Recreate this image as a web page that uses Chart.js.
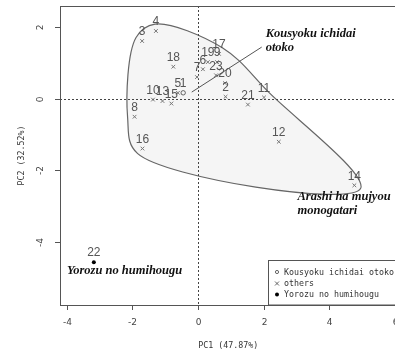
<!DOCTYPE html>
<html>
<head>
<meta charset="utf-8">
<script src="https://cdn.jsdelivr.net/npm/chart.js@4/dist/chart.umd.min.js"></script>
<style>
  html, body { margin: 0; padding: 0; background: #fff; overflow: hidden; }
  canvas { display: block; }
</style>
</head>
<body>
<canvas id="pca" width="400" height="358"></canvas>
<script>
// PCA scores (PC1, PC2) for each work
const kousyokuIds = ['1'];
const kousyokuX = [-0.45];
const kousyokuY = [0.17];

const otherIds = ['2', '3', '4', '5', '6', '7', '8', '9', '10', '11', '12',
                  '13', '14', '15', '16', '17', '18', '19', '20', '21', '23'];
const otherX = [0.84, -1.70, -1.28, -0.61, 0.15, -0.03, -1.93, 0.58, -1.37, 2.01, 2.46,
                -1.08, 4.76, -0.81, -1.69, 0.64, -0.75, 0.30, 0.82, 1.52, 0.55];
const otherY = [0.06, 1.62, 1.90, 0.17, 0.83, 0.61, -0.50, 1.03, -0.02, 0.04, -1.20,
                -0.06, -2.42, -0.13, -1.39, 1.26, 0.90, 1.03, 0.44, -0.16, 0.66];

const yorozuIds = ['22'];
const yorozuX = [-3.17];
const yorozuY = [-4.57];

const xTicks = [-4, -2, 0, 2, 4, 6];
const yTicks = [-4, -2, 0, 2];
const xTitle = 'PC1 (47.87%)';
const yTitle = 'PC2 (32.52%)';
const legendLabels = ['Kousyoku ichidai otoko', 'others', 'Yorozu no humihougu'];
const noteTexts = [['Kousyoku ichidai', 'otoko'], ['Arashi ha mujyou', 'monogatari'], ['Yorozu no humihougu']];

// where the italic notes sit (data units) and the leader line for the first one
const notePlacement = [
  { x: 2.06, y: 1.73 },
  { x: 3.03, y: -2.83 },
  { x: -3.99, y: -4.89 }
];
const leader = { x1: -0.19, y1: 0.19, x2: 1.94, y2: 1.45 };

const toPoints = (xs, ys) => xs.map((v, i) => ({ x: v, y: ys[i] }));

// convex hull (monotone chain) in pixel space
function convexHull(p) {
  const pts = p.slice().sort((a, b) => a.x - b.x || a.y - b.y);
  const cross = (o, a, b) => (a.x - o.x) * (b.y - o.y) - (a.y - o.y) * (b.x - o.x);
  const lower = [], upper = [];
  for (const q of pts) {
    while (lower.length >= 2 && cross(lower[lower.length - 2], lower[lower.length - 1], q) <= 0) lower.pop();
    lower.push(q);
  }
  for (let i = pts.length - 1; i >= 0; i--) {
    const q = pts[i];
    while (upper.length >= 2 && cross(upper[upper.length - 2], upper[upper.length - 1], q) <= 0) upper.pop();
    upper.push(q);
  }
  upper.pop(); lower.pop();
  return lower.concat(upper);
}

// push every hull vertex outward along its corner bisector
function expandHull(h, d) {
  const n = h.length;
  const cx = h.reduce((s, q) => s + q.x, 0) / n;
  const cy = h.reduce((s, q) => s + q.y, 0) / n;
  const normal = (a, b) => {
    let nx = b.y - a.y, ny = -(b.x - a.x);
    const len = Math.hypot(nx, ny) || 1;
    nx /= len; ny /= len;
    const mx = (a.x + b.x) / 2, my = (a.y + b.y) / 2;
    if (nx * (cx - mx) + ny * (cy - my) > 0) { nx = -nx; ny = -ny; }
    return { x: nx, y: ny };
  };
  return h.map((v, i) => {
    const n1 = normal(h[(i - 1 + n) % n], v);
    const n2 = normal(v, h[(i + 1) % n]);
    const bx = n1.x + n2.x, by = n1.y + n2.y;
    const len = Math.hypot(bx, by) || 1;
    return { x: v.x + bx / len * d, y: v.y + by / len * d };
  });
}

// closed centripetal Catmull-Rom curve through the ring
function closedSpline(ctx, r) {
  const n = r.length;
  const dist = (a, b) => Math.pow(Math.hypot(b.x - a.x, b.y - a.y), 0.5) || 1e-6;
  ctx.moveTo(r[0].x, r[0].y);
  for (let i = 0; i < n; i++) {
    const p0 = r[(i - 1 + n) % n], p1 = r[i], p2 = r[(i + 1) % n], p3 = r[(i + 2) % n];
    const d1 = dist(p0, p1), d2 = dist(p1, p2), d3 = dist(p2, p3);
    const a = 2 * d1 * d1 + 3 * d1 * d2 + d2 * d2, an = 3 * d1 * (d1 + d2);
    const b = 2 * d3 * d3 + 3 * d3 * d2 + d2 * d2, bn = 3 * d3 * (d3 + d2);
    const c1x = (d1 * d1 * p2.x - d2 * d2 * p0.x + a * p1.x) / an;
    const c1y = (d1 * d1 * p2.y - d2 * d2 * p0.y + a * p1.y) / an;
    const c2x = (d3 * d3 * p1.x - d2 * d2 * p3.x + b * p2.x) / bn;
    const c2y = (d3 * d3 * p1.y - d2 * d2 * p3.y + b * p2.y) / bn;
    ctx.bezierCurveTo(c1x, c1y, c2x, c2y, p2.x, p2.y);
  }
  ctx.closePath();
}

const GREY = '#555';
const LABEL_FONT = '12px "Liberation Sans", Arial, sans-serif';
const NOTE_FONT = 'italic bold 12.5px "Liberation Serif", "Times New Roman", serif';
const AXIS_FONT = '9px "DejaVu Sans", sans-serif';
const MONO_FONT = '8.3px "DejaVu Sans Mono", monospace';

const decor = {
  id: 'decor',
  beforeDatasetsDraw(chart) {
    const { ctx, chartArea: a, scales: { x, y } } = chart;
    const px = otherX.map((v, i) => ({ x: x.getPixelForValue(v), y: y.getPixelForValue(otherY[i]) }));
    ctx.save();
    ctx.beginPath();
    closedSpline(ctx, expandHull(convexHull(px), 7));
    ctx.fillStyle = '#f5f5f5';
    ctx.fill();
    ctx.strokeStyle = '#666';
    ctx.lineWidth = 1.2;
    ctx.stroke();

    // dotted zero lines
    ctx.setLineDash([2, 2]);
    ctx.strokeStyle = '#444';
    ctx.lineWidth = 1;
    const x0 = Math.round(x.getPixelForValue(0)) + 0.5;
    const y0 = Math.round(y.getPixelForValue(0)) + 0.5;
    ctx.beginPath();
    ctx.moveTo(x0, a.top); ctx.lineTo(x0, a.bottom);
    ctx.moveTo(a.left, y0); ctx.lineTo(a.right, y0);
    ctx.stroke();
    ctx.restore();
  },
  afterDraw(chart) {
    const { ctx, chartArea: a, scales: { x, y } } = chart;
    ctx.save();

    // point number labels
    ctx.font = LABEL_FONT;
    ctx.fillStyle = GREY;
    ctx.textAlign = 'center';
    ctx.textBaseline = 'alphabetic';
    const put = (ids, xs, ys) => ids.forEach((id, i) => {
      ctx.fillText(id, x.getPixelForValue(xs[i]), y.getPixelForValue(ys[i]) - 5.7);
    });
    put(kousyokuIds, kousyokuX, kousyokuY);
    put(otherIds, otherX, otherY);
    put(yorozuIds, yorozuX, yorozuY);

    // leader line to the first note
    ctx.strokeStyle = '#555';
    ctx.lineWidth = 1;
    ctx.beginPath();
    ctx.moveTo(x.getPixelForValue(leader.x1), y.getPixelForValue(leader.y1));
    ctx.lineTo(x.getPixelForValue(leader.x2), y.getPixelForValue(leader.y2));
    ctx.stroke();

    // italic notes
    ctx.font = NOTE_FONT;
    ctx.fillStyle = '#111';
    ctx.textAlign = 'left';
    noteTexts.forEach((lines, k) => {
      const bx = x.getPixelForValue(notePlacement[k].x);
      const by = y.getPixelForValue(notePlacement[k].y);
      lines.forEach((t, j) => ctx.fillText(t, bx, by + j * 14));
    });

    // plot frame
    ctx.strokeStyle = '#555';
    ctx.lineWidth = 1;
    ctx.strokeRect(Math.round(a.left) + 0.5, Math.round(a.top) + 0.5,
                   Math.round(a.right - a.left), Math.round(a.bottom - a.top));

    // x axis ticks and labels
    ctx.font = AXIS_FONT;
    ctx.fillStyle = '#444';
    ctx.textAlign = 'center';
    ctx.textBaseline = 'middle';
    ctx.beginPath();
    xTicks.forEach(v => {
      const p = Math.round(x.getPixelForValue(v)) + 0.5;
      ctx.moveTo(p, a.bottom); ctx.lineTo(p, a.bottom + 5);
      ctx.fillText(String(v), p, a.bottom + 18);
    });
    // y axis ticks and rotated labels
    yTicks.forEach(v => {
      const p = Math.round(y.getPixelForValue(v)) + 0.5;
      ctx.moveTo(a.left, p); ctx.lineTo(a.left - 5, p);
      ctx.save();
      ctx.translate(a.left - 19, p);
      ctx.rotate(-Math.PI / 2);
      ctx.fillText(String(v), 0, 0);
      ctx.restore();
    });
    ctx.stroke();

    // axis titles
    ctx.font = MONO_FONT;
    ctx.fillStyle = '#333';
    ctx.fillText(xTitle, (a.left + a.right) / 2, a.bottom + 41);
    ctx.save();
    ctx.translate(22, (a.top + a.bottom) / 2);
    ctx.rotate(-Math.PI / 2);
    ctx.fillText(yTitle, 0, 0);
    ctx.restore();

    // legend (bottom right)
    const lx = 268.5, ly = 260.5;
    ctx.fillStyle = '#fff';
    ctx.fillRect(lx, ly, a.right - lx, a.bottom - ly);
    ctx.strokeStyle = '#555';
    ctx.strokeRect(lx, ly, a.right - lx, a.bottom - ly);
    ctx.textAlign = 'left';
    ctx.fillStyle = '#333';
    const rows = [273, 283.5, 294.5];
    const sx = 277;
    legendLabels.forEach((t, i) => ctx.fillText(t, 284, rows[i]));
    ctx.strokeStyle = '#555';
    ctx.lineWidth = 0.9;
    ctx.beginPath();
    ctx.arc(sx, rows[0] - 1, 1.6, 0, Math.PI * 2);
    ctx.stroke();
    ctx.beginPath();
    ctx.moveTo(sx - 2, rows[1] - 2); ctx.lineTo(sx + 2, rows[1] + 2);
    ctx.moveTo(sx + 2, rows[1] - 2); ctx.lineTo(sx - 2, rows[1] + 2);
    ctx.stroke();
    ctx.fillStyle = '#000';
    ctx.beginPath();
    ctx.arc(sx, rows[2], 2, 0, Math.PI * 2);
    ctx.fill();

    ctx.restore();
  }
};

new Chart(document.getElementById('pca'), {
  type: 'scatter',
  data: {
    datasets: [
      { label: legendLabels[0], data: toPoints(kousyokuX, kousyokuY),
        pointStyle: 'circle', pointRadius: 2.2, borderColor: '#555', borderWidth: 0.9,
        backgroundColor: 'rgba(0,0,0,0)' },
      { label: legendLabels[1], data: toPoints(otherX, otherY),
        pointStyle: 'crossRot', pointRadius: 2.6, borderColor: '#777', borderWidth: 1 },
      { label: legendLabels[2], data: toPoints(yorozuX, yorozuY),
        pointStyle: 'circle', pointRadius: 2, borderColor: '#000', borderWidth: 0,
        backgroundColor: '#000' }
    ]
  },
  options: {
    responsive: false,
    animation: false,
    devicePixelRatio: 1,
    layout: { padding: { left: 60, top: 6, right: 3, bottom: 53 } },
    scales: {
      x: { type: 'linear', min: -4.2, max: 6.04, display: false },
      y: { type: 'linear', min: -5.77, max: 2.6, display: false }
    },
    plugins: { legend: { display: false }, tooltip: { enabled: false } },
    elements: { point: { hoverRadius: 2 } }
  },
  plugins: [decor]
});
</script>
</body>
</html>
